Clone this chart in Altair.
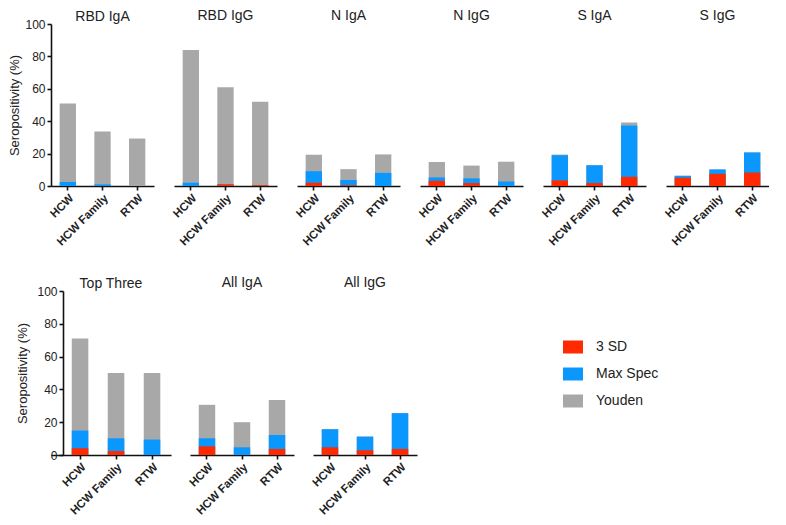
import altair as alt
import pandas as pd

groups = ["HCW", "HCW Family", "RTW"]
methods = ["3 SD", "Max Spec", "Youden"]
method_colors = ["#FF2A00", "#0A98FF", "#A8A8A8"]
panels_top = ["RBD IgA", "RBD IgG", "N IgA", "N IgG", "S IgA", "S IgG"]
panels_bottom = ["Top Three", "All IgA", "All IgG"]
panels = panels_top + panels_bottom

# seropositivity (%) per panel, for HCW / HCW Family / RTW
youden = [
    [51.0, 33.7, 29.3], [84.0, 61.0, 52.0], [19.3, 10.4, 19.5],
    [14.8, 12.6, 15.0], [19.4, 12.8, 39.2], [6.3, 10.2, 20.7],
    [71.0, 50.0, 50.0], [30.6, 20.0, 33.5], [15.7, 11.2, 25.5],
]
max_spec = [
    [2.5, 1.0, 0.0], [2.0, 1.0, 0.5], [9.1, 3.7, 8.1],
    [5.3, 4.7, 2.8], [19.0, 12.8, 37.4], [6.3, 10.2, 20.7],
    [14.9, 10.2, 9.4], [10.2, 4.7, 12.2], [15.7, 11.2, 25.5],
]
three_sd = [
    [0.0, 0.0, 0.0], [0.0, 1.0, 0.5], [2.0, 0.5, 0.0],
    [3.2, 1.8, 0.0], [3.5, 1.8, 5.7], [5.1, 7.5, 8.3],
    [4.1, 2.4, 0.0], [5.3, 0.0, 3.7], [4.7, 2.9, 3.7],
]
y_ticks = [0, 20, 40, 60, 80, 100]

rows = []
for i, p in enumerate(panels):
    for m, series in [("Youden", youden), ("Max Spec", max_spec), ("3 SD", three_sd)]:
        for g, v in zip(groups, series[i]):
            rows.append({"panel": p, "group": g, "method": m, "value": v})
df = pd.DataFrame(rows)

FONT = "Liberation Sans"

legend = alt.Legend(
    orient="none", legendX=512, legendY=313, title=None,
    symbolType="M-1,-0.65L1,-0.65L1,0.65L-1,0.65Z", symbolSize=400,
    symbolStrokeWidth=0, symbolOpacity=1,
    labelFont=FONT, labelFontSize=14, labelColor="#222222",
    rowPadding=10, labelOffset=13,
)


def panel(name, width, height, first=False, axis_offset=0, title_pad=3,
          pad_inner=0.53, pad_outer=0.25, band_align=0.5):
    d = df[df.panel == name]
    if first:
        y_axis = alt.Axis(
            values=y_ticks, title="Seropositivity (%)", titleFont=FONT,
            titleFontSize=13, titleFontWeight="normal", titlePadding=title_pad,
            titleColor="#222222", labelFont=FONT, labelFontSize=12,
            labelColor="#222222", labelPadding=2, tickSize=4, grid=False,
            offset=axis_offset,
        )
    else:
        y_axis = None
    return alt.Chart(d, title=alt.Title(
        name, font=FONT, fontSize=14, fontWeight="normal", color="#222222",
        offset=-6 if first else 1, anchor="middle", frame="group")).mark_bar().encode(
        x=alt.X("group:N", sort=groups,
                scale=alt.Scale(paddingInner=pad_inner, paddingOuter=pad_outer,
                                align=band_align),
                axis=alt.Axis(title=None, labelAngle=-45, labelFont=FONT,
                              labelFontSize=11.5, labelFontWeight="bold",
                              labelColor="#222222", labelPadding=2,
                              tickSize=4)),
        y=alt.Y("value:Q", stack=None, scale=alt.Scale(domain=[0, 100]),
                axis=y_axis),
        color=alt.Color("method:N", scale=alt.Scale(domain=methods, range=method_colors),
                        legend=legend),
    ).properties(width=width, height=height)


row1 = alt.hconcat(
    *[panel(p, 103, 162, first=(i == 0)) for i, p in enumerate(panels_top)],
    spacing=16,
)
row2 = alt.hconcat(
    panel(panels_bottom[0], 120, 164, first=True, axis_offset=-12, title_pad=7,
          pad_inner=0.54, pad_outer=0.437, band_align=0.66),
    panel(panels_bottom[1], 104, 164),
    panel(panels_bottom[2], 104, 164),
    spacing=16,
)

chart = alt.vconcat(row1, row2, spacing=28).properties(
    padding={"left": 0, "top": 1, "right": 0, "bottom": 0}
).resolve_scale(color="shared").configure_view(stroke=None).configure_axis(
    domainColor="#111111", domainWidth=1.6, tickColor="#111111", tickWidth=1.6,
    grid=False,
)

chart.save("out.html", embed_options={"renderer": "svg", "actions": False})
